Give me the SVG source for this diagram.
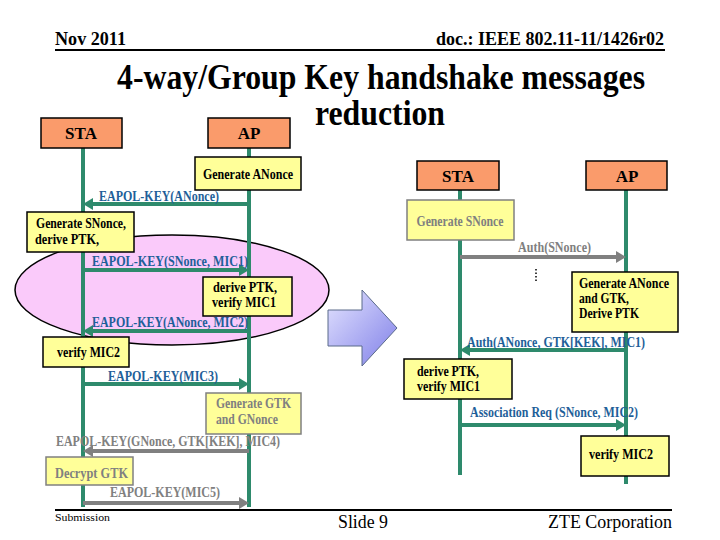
<svg xmlns="http://www.w3.org/2000/svg" width="720" height="540" viewBox="0 0 720 540" font-family="'Liberation Serif', 'DejaVu Serif', serif">
<style>
text{font-family:'Liberation Serif','DejaVu Serif',serif;font-weight:bold}
.hdr{font-size:18px}
.title{font-size:35px}
.lab{font-size:15px}
.box{font-size:14px}
.blue{fill:#1F5F99}
.gray{fill:#808080}
.orange{fill:#FA9B6B;stroke:#000;stroke-width:1.5}
.yel{fill:#FFFF99;stroke:#000;stroke-width:1.5}
.yelg{fill:#FFFF99;stroke:#808080;stroke-width:1.5}
.life{stroke:#2E8A6C;stroke-width:4;fill:none}
.ga{stroke:#2E8A6C;stroke-width:4;marker-end:url(#ag)}
.gy{stroke:#808080;stroke-width:4;marker-end:url(#ay)}
.foot{font-weight:normal}
</style>
<defs>
<marker id="ag" markerUnits="userSpaceOnUse" markerWidth="10" markerHeight="12" refX="0" refY="6" orient="auto"><path d="M0,0 L10,6 L0,12 z" fill="#2E8A6C"/></marker>
<marker id="ay" markerUnits="userSpaceOnUse" markerWidth="10" markerHeight="12" refX="0" refY="6" orient="auto"><path d="M0,0 L10,6 L0,12 z" fill="#808080"/></marker>
<linearGradient id="bg" x1="0" y1="0" x2="1" y2="1"><stop offset="0" stop-color="#E4E4FF"/><stop offset="1" stop-color="#7F7FE8"/></linearGradient>
</defs>

<g id="header">
<text class="hdr" x="55" y="45" textLength="71" lengthAdjust="spacingAndGlyphs">Nov 2011</text>
<text class="hdr" x="664" y="45" text-anchor="end" textLength="228" lengthAdjust="spacingAndGlyphs">doc.: IEEE 802.11-11/1426r02</text>
<line x1="55" y1="50" x2="665" y2="50" stroke="#000" stroke-width="2"/>
<text class="title" x="381" y="89" text-anchor="middle" textLength="528" lengthAdjust="spacingAndGlyphs">4-way/Group Key handshake messages</text>
<text class="title" x="380" y="125" text-anchor="middle" textLength="130" lengthAdjust="spacingAndGlyphs">reduction</text>
</g>

<g id="ellipse"><ellipse cx="172" cy="290" rx="157" ry="55" fill="#FACAFA" stroke="#000" stroke-width="1.5"/></g>

<g id="lifelines">
<line class="life" x1="83" y1="148" x2="83" y2="507"/>
<line class="life" x1="249" y1="148" x2="249" y2="507"/>
<line class="life" x1="460" y1="190" x2="460" y2="475"/>
<line class="life" x1="626" y1="190" x2="626" y2="484"/>
</g>

<g id="connectors">
<line class="ga" x1="249" y1="204" x2="93" y2="204"/>
<line class="ga" x1="83" y1="270" x2="239" y2="270"/>
<line class="ga" x1="249" y1="331" x2="93" y2="331"/>
<line class="ga" x1="83" y1="384" x2="239" y2="384"/>
<line class="gy" x1="249" y1="451" x2="93" y2="451"/>
<line class="gy" x1="83" y1="503" x2="239" y2="503"/>
<line class="gy" x1="460" y1="257" x2="616" y2="257"/>
<line class="ga" x1="626" y1="350" x2="470" y2="350"/>
<line class="ga" x1="460" y1="425" x2="616" y2="425"/>
<line x1="536" y1="269" x2="536" y2="282" stroke="#000" stroke-width="1.5" stroke-dasharray="1.5 2"/>
</g>

<g id="labels">
<text class="lab blue" x="99" y="201" textLength="120" lengthAdjust="spacingAndGlyphs">EAPOL-KEY(ANonce)</text>
<text class="lab blue" x="92" y="266" textLength="156" lengthAdjust="spacingAndGlyphs">EAPOL-KEY(SNonce, MIC1)</text>
<text class="lab blue" x="92" y="327" textLength="156" lengthAdjust="spacingAndGlyphs">EAPOL-KEY(ANonce, MIC2)</text>
<text class="lab blue" x="108" y="381" textLength="110" lengthAdjust="spacingAndGlyphs">EAPOL-KEY(MIC3)</text>
<text class="lab gray" x="56" y="446" textLength="224" lengthAdjust="spacingAndGlyphs">EAPOL-KEY(GNonce, GTK[KEK], MIC4)</text>
<text class="lab gray" x="110" y="497" textLength="110" lengthAdjust="spacingAndGlyphs">EAPOL-KEY(MIC5)</text>
<text class="lab gray" x="518" y="252" textLength="73" lengthAdjust="spacingAndGlyphs">Auth(SNonce)</text>
<text class="lab blue" x="467" y="347" textLength="178" lengthAdjust="spacingAndGlyphs">Auth(ANonce, GTK[KEK], MIC1)</text>
<text class="lab blue" x="470" y="417" textLength="168" lengthAdjust="spacingAndGlyphs">Association Req (SNonce, MIC2)</text>
</g>

<g id="sta-left"><rect class="orange" x="41" y="118" width="81" height="30"/><text x="81" y="139" font-size="17" text-anchor="middle">STA</text></g>
<g id="ap-left"><rect class="orange" x="208" y="118" width="82" height="30"/><text x="249" y="139" font-size="17" text-anchor="middle">AP</text></g>

<g id="gen-anonce"><rect class="yel" x="195" y="157" width="106" height="33"/><text class="box" x="248" y="179" text-anchor="middle" textLength="90" lengthAdjust="spacingAndGlyphs">Generate ANonce</text></g>
<g id="gen-snonce-left"><rect class="yel" x="27" y="212" width="107" height="40"/>
<text class="box" x="36" y="228" textLength="90" lengthAdjust="spacingAndGlyphs">Generate SNonce,</text>
<text class="box" x="35" y="244" textLength="64" lengthAdjust="spacingAndGlyphs">derive PTK,</text></g>
<g id="derive-left"><rect class="yel" x="203" y="277" width="89" height="39"/>
<text class="box" x="213" y="292" textLength="64" lengthAdjust="spacingAndGlyphs">derive PTK,</text>
<text class="box" x="212" y="307" textLength="64" lengthAdjust="spacingAndGlyphs">verify MIC1</text></g>
<g id="verify-left"><rect class="yel" x="43" y="337" width="86" height="30"/><text class="box" x="57" y="357" textLength="63" lengthAdjust="spacingAndGlyphs">verify MIC2</text></g>
<g id="gen-gtk"><rect class="yelg" x="206" y="393" width="95" height="41"/>
<text class="box gray" x="216" y="408" textLength="75" lengthAdjust="spacingAndGlyphs">Generate GTK</text>
<text class="box gray" x="216" y="424" textLength="62" lengthAdjust="spacingAndGlyphs">and GNonce</text></g>
<g id="decrypt"><rect class="yelg" x="46" y="457" width="87" height="28"/><text class="box gray" x="55" y="478" textLength="73" lengthAdjust="spacingAndGlyphs">Decrypt  GTK</text></g>

<g id="big-arrow"><polygon points="328,310 362,310 362,290 397,328 362,366 362,346 328,346" fill="url(#bg)" stroke="#5A6A8A" stroke-width="1"/></g>

<g id="sta-right"><rect class="orange" x="417" y="161" width="82" height="29"/><text x="458" y="182" font-size="17" text-anchor="middle">STA</text></g>
<g id="ap-right"><rect class="orange" x="586" y="161" width="81" height="29"/><text x="627" y="182" font-size="17" text-anchor="middle">AP</text></g>
<g id="gen-snonce-right"><rect class="yelg" x="407" y="200" width="107" height="40"/><text class="box gray" x="460" y="226" text-anchor="middle" textLength="87" lengthAdjust="spacingAndGlyphs">Generate SNonce</text></g>
<g id="gen-anonce-gtk"><rect class="yel" x="572" y="272" width="106" height="60"/>
<text class="box" x="579" y="288" textLength="90" lengthAdjust="spacingAndGlyphs">Generate ANonce</text>
<text class="box" x="579" y="303" textLength="50" lengthAdjust="spacingAndGlyphs">and  GTK,</text>
<text class="box" x="579" y="318" textLength="60" lengthAdjust="spacingAndGlyphs">Derive PTK</text></g>
<g id="derive-right"><rect class="yel" x="404" y="359" width="108" height="40"/>
<text class="box" x="417" y="376" textLength="62" lengthAdjust="spacingAndGlyphs">derive PTK,</text>
<text class="box" x="417" y="391" textLength="63" lengthAdjust="spacingAndGlyphs">verify MIC1</text></g>
<g id="verify-right"><rect class="yel" x="581" y="436" width="88" height="40"/><text class="box" x="589" y="459" textLength="64" lengthAdjust="spacingAndGlyphs">verify MIC2</text></g>

<g id="footer">
<line x1="55" y1="510" x2="672" y2="510" stroke="#000" stroke-width="2"/>
<text class="foot" x="55" y="521" font-size="11" textLength="55" lengthAdjust="spacingAndGlyphs">Submission</text>
<text class="foot" x="338" y="528" font-size="18" textLength="50" lengthAdjust="spacingAndGlyphs">Slide 9</text>
<text class="foot" x="548" y="528" font-size="18" textLength="124" lengthAdjust="spacingAndGlyphs">ZTE Corporation</text>
</g>
</svg>
